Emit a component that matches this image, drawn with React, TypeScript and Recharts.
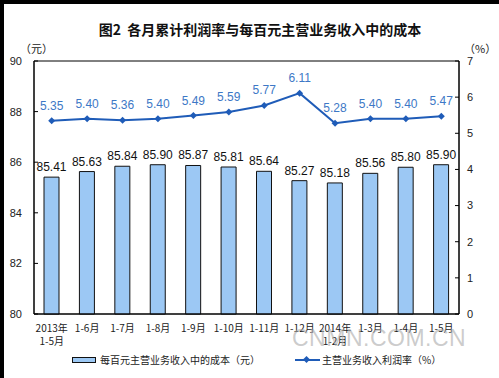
import React from "react";
import {
  ComposedChart,
  Bar,
  Line,
  XAxis,
  YAxis,
  LabelList,
  ReferenceArea,
} from "recharts";

const months = [
  "2013年|1-5月",
  "1-6月",
  "1-7月",
  "1-8月",
  "1-9月",
  "1-10月",
  "1-11月",
  "1-12月",
  "2014年|1-2月",
  "1-3月",
  "1-4月",
  "1-5月",
];
const costPerHundred = [85.41, 85.63, 85.84, 85.9, 85.87, 85.81, 85.64, 85.27, 85.18, 85.56, 85.8, 85.9];
const profitRate = [5.35, 5.4, 5.36, 5.4, 5.49, 5.59, 5.77, 6.11, 5.28, 5.4, 5.4, 5.47];
const leftTicks = [80, 82, 84, 86, 88, 90];
const rightTicks = [0, 1, 2, 3, 4, 5, 6, 7];

const data = months.map((m, i) => ({ m, cost: costPerHundred[i], rate: profitRate[i] }));

const NUM_FONT = "'Liberation Sans', Arial, sans-serif";
const CJK_FONT = "'Noto Sans CJK SC', 'Liberation Sans', sans-serif";
const BAR_FILL = "#9cc8f4";
const LINE_COLOR = "#1f5cb8";

const MonthTick = ({ x, y, payload }: any) => {
  const parts = String(payload.value).split("|");
  return (
    <text x={x} y={y} textAnchor="middle" fontSize={10} fill="#222" fontFamily={CJK_FONT}>
      {parts.map((p: string, i: number) => (
        <tspan key={i} x={x} dy={i === 0 ? 10 : 13}>{p}</tspan>
      ))}
    </text>
  );
};

const Diamond = ({ cx, cy }: any) => {
  if (cx == null || cy == null) return null;
  return <path d={`M${cx},${cy - 3.5}L${cx + 3.5},${cy}L${cx},${cy + 3.5}L${cx - 3.5},${cy}Z`} fill={LINE_COLOR} />;
};

export default function App() {
  return (
    <div
      style={{
        position: "absolute",
        left: 0,
        top: 0,
        width: 499,
        height: 378,
        background: "#fff",
        boxSizing: "border-box",
        borderLeft: "4px solid #000",
        borderTop: "4px solid #000",
        overflow: "hidden",
      }}
    >
      <div style={{ position: "absolute", left: -4, top: -4, width: 499, height: 378 }}>
        <div
          style={{
            position: "absolute",
            left: 0,
            width: 520,
            top: 19,
            textAlign: "center",
            fontFamily: CJK_FONT,
            fontWeight: 700,
            fontSize: 14,
            color: "#111",
          }}
        >
          图2&nbsp;&nbsp;各月累计利润率与每百元主营业务收入中的成本
        </div>
        <div style={{ position: "absolute", left: 20, top: 40, fontFamily: CJK_FONT, fontSize: 11, color: "#222" }}>（元）</div>
        <div style={{ position: "absolute", left: 464, top: 40, fontFamily: CJK_FONT, fontSize: 11, color: "#222" }}>（%）</div>

        <ComposedChart
          width={499}
          height={378}
          data={data}
          margin={{ top: 61, right: 20, bottom: 34, left: 0 }}
          barCategoryGap={0}
        >
          <XAxis
            dataKey="m"
            height={30}
            tick={<MonthTick />}
            tickLine={false}
            axisLine={{ stroke: "#000" }}
            interval={0}
          />
          <YAxis
            yAxisId="left"
            orientation="left"
            width={34}
            domain={[80, 90]}
            ticks={leftTicks}
            tickSize={-4}
            tickMargin={16}
            tick={{ fontSize: 11, fill: "#222", fontFamily: NUM_FONT }}
            axisLine={{ stroke: "#000" }}
            tickLine={{ stroke: "#000" }}
          />
          <YAxis
            yAxisId="right"
            orientation="right"
            width={20}
            domain={[0, 7]}
            ticks={rightTicks}
            tickSize={-4}
            tickMargin={12}
            tick={{ fontSize: 11, fill: "#222", fontFamily: NUM_FONT, textAnchor: "start" }}
            axisLine={{ stroke: "#000" }}
            tickLine={{ stroke: "#000" }}
          />
          <ReferenceArea yAxisId="left" y1={80} y2={90} fill="none" stroke="#000" strokeWidth={1} />
          <Bar yAxisId="left" dataKey="cost" barSize={15} fill={BAR_FILL} stroke="#111" strokeWidth={1} isAnimationActive={false}>
            <LabelList
              dataKey="cost"
              position="top"
              offset={6}
              formatter={(v: any) => Number(v).toFixed(2)}
              style={{ fontSize: 12, fill: "#111", fontFamily: NUM_FONT }}
            />
          </Bar>
          <Line
            yAxisId="right"
            dataKey="rate"
            stroke={LINE_COLOR}
            strokeWidth={2}
            dot={<Diamond />}
            activeDot={false}
            isAnimationActive={false}
          >
            <LabelList
              dataKey="rate"
              position="top"
              offset={11}
              formatter={(v: any) => Number(v).toFixed(2)}
              style={{ fontSize: 12, fill: "#3d78c6", fontFamily: NUM_FONT }}
            />
          </Line>
        </ComposedChart>

        <div
          style={{
            position: "absolute",
            left: 292,
            top: 325,
            fontFamily: NUM_FONT,
            fontSize: 23,
            color: "rgba(170,170,170,0.6)",
            letterSpacing: 0.5,
          }}
        >
          CNMN.COM.CN
        </div>

        <div style={{ position: "absolute", left: 72, top: 357, width: 24, height: 6, background: BAR_FILL, border: "1px solid #111", boxSizing: "border-box" }} />
        <div style={{ position: "absolute", left: 100, top: 352, fontFamily: CJK_FONT, fontSize: 10, color: "#222" }}>
          每百元主营业务收入中的成本（元）
        </div>
        <div style={{ position: "absolute", left: 295, top: 359, width: 25, height: 2, background: LINE_COLOR }} />
        <div style={{ position: "absolute", left: 304, top: 357, width: 5, height: 5, background: LINE_COLOR, transform: "rotate(45deg)" }} />
        <div style={{ position: "absolute", left: 322, top: 352, fontFamily: CJK_FONT, fontSize: 10, color: "#222" }}>
          主营业务收入利润率（%）
        </div>
      </div>
    </div>
  );
}
